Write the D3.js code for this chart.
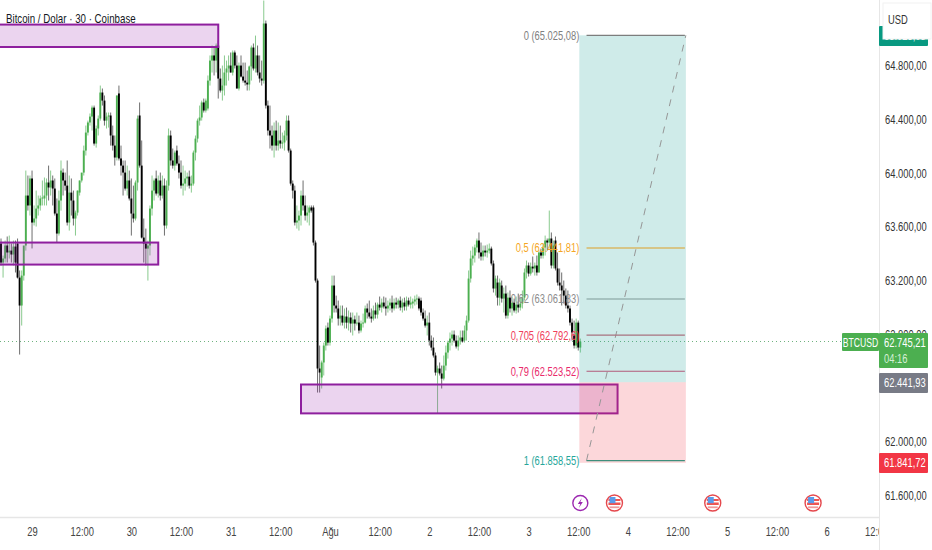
<!DOCTYPE html>
<html><head><meta charset="utf-8">
<script src="https://cdn.jsdelivr.net/npm/d3@7"></script>
<style>
html,body{margin:0;padding:0;background:#fff;overflow:hidden}
svg{display:block}
text{font-family:"Liberation Sans",Arial,sans-serif}
</style></head><body><svg id="c" width="932" height="550"></svg>
<script>
// 30-minute candles, index = bar number
const opens=[
63475,63333,63363,63460,63408,63422,63393,63452,63475,63221,
63013,63236,63460,63832,63758,63959,63631,63661,63735,63758,
63810,63810,63832,63929,63892,63944,63884,63698,63549,63795,
64003,63944,63906,63631,63854,63795,63661,63705,63854,63944,
64003,64167,64301,64376,64420,64487,64219,64331,64405,64599,
64539,64390,64420,64428,64279,64204,64115,64592,64108,64055,
64003,63884,63944,63810,63698,63661,63929,64428,64055,63519,
63475,63437,63460,63735,63869,63959,63847,63944,63832,63906,
63609,63906,64279,64093,64055,64167,64070,64003,63906,63921,
63959,63973,63906,63921,64152,64256,64390,64413,64525,64465,
64480,64688,64837,64875,64837,64949,64703,64614,64651,64748,
64778,64800,64748,64897,64800,64629,64800,64718,64688,64673,
64659,64793,64934,64778,64875,64748,64703,64688,65113,64502,
64316,64279,64204,64316,64204,64242,64219,64227,64279,64390,
64167,63921,63869,63631,63646,63683,63832,63758,63683,63705,
63743,63743,63482,63199,62544,62477,62589,62715,62849,62737,
62916,63162,63013,62991,62916,62938,62886,62931,62886,62924,
62879,62909,62879,62886,62827,62879,62886,62991,62961,62931,
62916,62976,62946,63020,62998,63035,63006,62991,63013,63035,
62991,63035,63020,63050,62998,63035,63006,63050,63020,63028,
63043,63058,63065,63050,62961,62916,62864,62886,62752,62700,
62641,62514,62544,62507,62469,62566,62663,62737,62767,62797,
62752,62708,62752,62775,62752,62827,62901,63214,63363,63385,
63445,63497,63408,63378,63422,63408,63422,63437,63326,63140,
63184,63072,63162,63065,63102,62938,63072,62991,63035,62976,
63020,62998,63028,63072,63259,63311,63251,63303,63289,63311,
63259,63408,63385,63445,63497,63482,63512,63311,63497,63289,
63184,63162,63125,63087,63013,62991,62886,62790,62715,62886,
62700];
const highs=[
63512,63385,63497,63527,63534,63475,63497,63497,63512,63274,
63274,63333,64018,63981,63981,64018,63758,63869,63832,63832,
63944,63966,63959,64055,64018,63981,63959,63810,63869,64093,
64033,64003,64093,63981,63959,63869,63720,63869,63944,63981,
64204,64353,64390,64443,64502,64502,64353,64428,64651,64629,
64577,64450,64450,64450,64353,64279,64577,64651,64204,64093,
64093,64055,64018,63959,63906,63944,64428,64525,64242,63661,
63586,63497,63758,63981,63959,64018,63981,64003,63981,63959,
63944,64331,64316,64182,64167,64204,64130,64093,64055,64018,
64003,64018,63981,64167,64279,64405,64502,64539,64554,64554,
64726,64875,64949,64934,64964,64986,64778,64800,64875,64837,
64875,64897,64912,64912,64875,64822,64875,64822,64822,64763,
64800,64949,64964,65023,64949,64875,64837,65284,65135,64539,
64502,64353,64376,64390,64376,64353,64301,64316,64428,64428,
64182,63944,63906,63758,63720,63869,63944,63832,63758,63758,
63758,63758,63497,63214,62715,62603,62737,62864,62886,62938,
63236,63236,63087,63050,63013,63013,62991,62998,62976,62961,
62961,62938,62961,62938,62901,62953,63013,63028,63050,62991,
63013,63035,63035,63080,63065,63080,63072,63050,63065,63087,
63065,63072,63065,63080,63065,63072,63080,63072,63080,63065,
63087,63095,63080,63072,62991,62976,62938,62961,62790,62775,
62663,62566,62589,62566,62641,62715,62752,62812,62827,62827,
62790,62790,62827,62827,62864,62938,63274,63422,63452,63467,
63512,63557,63482,63460,63460,63467,63475,63452,63348,63236,
63236,63214,63199,63147,63162,63110,63125,63080,63065,63080,
63102,63072,63125,63289,63348,63333,63333,63378,63333,63385,
63422,63437,63475,63534,63512,63720,63557,63497,63527,63408,
63289,63259,63199,63140,63125,63013,62916,62901,62916,62901,
62767];
const lows=[
63311,63221,63333,63333,63363,63333,63311,63259,63214,62648,
62864,63199,63422,63720,63683,63438,63609,63601,63683,63720,
63758,63758,63758,63795,63832,63758,63683,63482,63534,63720,
63832,63869,63609,63571,63683,63609,63534,63683,63832,63929,
63981,64130,64279,64353,64316,64204,64189,64279,64390,64502,
64353,64331,64338,64204,64167,64055,64093,64093,63981,63832,
63869,63832,63795,63534,63631,63646,63869,64040,63512,63333,
63311,63199,63386,63683,63795,63832,63817,63795,63810,63534,
63586,63869,64055,64033,64018,64055,63959,63884,63832,63869,
63899,63884,63854,63906,64093,64227,64353,64390,64450,64450,
64465,64651,64748,64726,64748,64554,64599,64539,64577,64651,
64688,64748,64726,64778,64629,64614,64711,64673,64651,64614,
64614,64688,64763,64748,64726,64673,64651,64666,64480,64279,
64182,64167,64115,64167,64167,64182,64182,64167,64242,64152,
63906,63810,63609,63586,63571,63609,63720,63646,63631,63609,
63705,63460,63184,62365,62365,62395,62492,62678,62715,62715,
62886,62961,62961,62864,62864,62864,62842,62842,62827,62812,
62790,62827,62864,62805,62812,62849,62879,62916,62916,62886,
62901,62916,62916,62976,62961,62991,62938,62961,62976,62961,
62976,62991,62991,62976,62961,62976,62976,63006,62991,62991,
63013,63020,62976,62938,62901,62849,62790,62715,62678,62626,
62492,62209,62492,62395,62455,62529,62618,62678,62715,62737,
62693,62678,62722,62737,62737,62752,62886,63184,63311,63333,
63408,63363,63348,63348,63378,63370,63400,63311,63110,63087,
63013,63013,63035,62961,62916,62916,62961,62938,62961,62953,
62961,62976,62991,63050,63214,63229,63236,63259,63236,63236,
63259,63363,63363,63385,63422,63437,63289,63289,63274,63162,
63125,63013,63028,62991,62961,62864,62752,62693,62693,62678,
62663];
const closes=[
63333,63363,63460,63408,63422,63393,63452,63333,63221,63013,
63236,63460,63832,63758,63959,63631,63661,63735,63758,63810,
63817,63832,63929,63892,63944,63884,63698,63549,63795,64018,
63944,63906,63631,63854,63795,63661,63705,63869,63944,64003,
64167,64301,64376,64420,64487,64219,64331,64405,64599,64539,
64390,64420,64428,64279,64204,64115,64577,64108,64055,64003,
63884,63944,63810,63698,63661,63929,64405,64055,63519,63475,
63437,63460,63735,63869,63944,63847,63944,63832,63906,63609,
63906,64279,64093,64055,64152,64070,64003,63906,63921,63959,
63973,63906,63921,64152,64256,64390,64413,64525,64465,64539,
64688,64837,64875,64837,64949,64703,64614,64651,64748,64778,
64800,64748,64897,64800,64629,64800,64718,64688,64673,64659,
64793,64934,64778,64875,64748,64703,64688,65113,64502,64316,
64279,64204,64316,64204,64242,64219,64227,64279,64390,64167,
63921,63869,63631,63646,63683,63832,63758,63683,63705,63743,
63720,63482,63199,62544,62514,62589,62715,62842,62737,62916,
63162,63013,62991,62916,62938,62886,62931,62886,62924,62879,
62909,62879,62886,62827,62879,62886,62991,62961,62931,62916,
62976,62946,63020,62998,63035,63006,62991,63013,63035,62991,
63035,63020,63050,62998,63035,63006,63050,63020,63035,63043,
63058,63065,62991,62961,62916,62864,62886,62752,62700,62641,
62514,62544,62507,62469,62566,62663,62737,62767,62797,62752,
62708,62752,62775,62745,62827,62901,63214,63363,63385,63445,
63497,63408,63378,63422,63408,63422,63437,63326,63140,63214,
63072,63184,63065,63102,62938,63072,62991,63035,62976,63020,
62998,63028,63072,63259,63311,63251,63303,63289,63311,63259,
63408,63385,63445,63497,63482,63512,63311,63460,63289,63184,
63162,63125,63087,63013,62991,62886,62812,62715,62886,62700,
62745];

const priceTicks=[64800,64400,64000,63600,63200,62800,62000,61600];
const timeBars=[15,39,63,87,111,135,159,183,207,231,255,279,303,327,351,375,399,423];
const timeLabels=["29","12:00","30","12:00","31","12:00","Ağu","12:00","2","12:00","3","12:00","4","12:00","5","12:00","6","12:00"];

const zoneStart=[-5,-5,145];
const zoneEnd=[105,76,298];
const zoneTop=[65105,63482,62425];
const zoneBottom=[64938,63318,62210];

const fibLabels=["0 (65.025,08)","0,5 (63.441,81)","0,62 (63.061,83)","0,705 (62.792,6)","0,79 (62.523,52)","1 (61.858,55)"];
const fibPrices=[65025.08,63441.81,63061.83,62792.68,62523.52,61858.55];
const fibLine=["#7d7d7d","#d8b866","#7f9a98","#a8727f","#b25a7a","#3f8f7c"];
const fibText=["#808080","#f5a623","#8c8c8c","#f0405a","#e92a6b","#26a69a"];
const toolStartBar=280,toolEndBar=331.5,entryPrice=62441.93,topPrice=65025.08,stopPrice=61841.72;
const lastPrice=62745.21;
const eventBars=[280,296.5,344,392.5];

const W=932,H=550,plotW=879,plotH=518;
const pxPerPrice=1/7.446;
const y=d3.scaleLinear().domain([65288,65288-plotH/pxPerPrice]).range([0,plotH]);
const x=d3.scaleLinear().domain([0,plotW/2.069]).range([1,plotW+1]);
const fmt=d3.formatLocale({decimal:",",thousands:".",grouping:[3],currency:["",""]}).format(",.2f");

const svg=d3.select("#c");
svg.append("rect").attr("width",W).attr("height",H).attr("fill","#fff");
svg.append("defs").append("clipPath").attr("id","plot").append("rect").attr("width",plotW).attr("height",plotH);
const g=svg.append("g").attr("clip-path","url(#plot)");

// candles
const idx=d3.range(opens.length);
const isUp=i=>closes[i]>=opens[i];
g.append("line").attr("x1",0).attr("x2",plotW).attr("y1",Math.round(y(lastPrice))+0.5).attr("y2",Math.round(y(lastPrice))+0.5)
 .attr("stroke","#6fb27f").attr("stroke-dasharray","1 3").attr("stroke-width",1);
g.selectAll(".w").data(idx).join("line").attr("class","w")
 .attr("x1",i=>x(i)).attr("x2",i=>x(i)).attr("y1",i=>y(highs[i])).attr("y2",i=>y(lows[i]))
 .attr("stroke",i=>isUp(i)?"#7cc481":"#5e5e5e").attr("stroke-width",0.9);
g.selectAll(".b").data(idx).join("rect").attr("class","b")
 .attr("x",i=>x(i)-0.95).attr("width",1.9)
 .attr("y",i=>Math.min(y(opens[i]),y(closes[i])))
 .attr("height",i=>Math.max(0.8,Math.abs(y(opens[i])-y(closes[i]))))
 .attr("fill",i=>isUp(i)?"#4caf50":"#000");

// zones
zoneTop.forEach((t,i)=>{
 g.append("rect").attr("x",x(zoneStart[i])).attr("width",x(zoneEnd[i])-x(zoneStart[i]))
  .attr("y",y(t)).attr("height",y(zoneBottom[i])-y(t))
  .attr("fill","#9c27b0").attr("fill-opacity",0.2).attr("stroke","#8e1f9e").attr("stroke-width",2);
});

// long position tool
const tx0=x(toolStartBar)-1,tx1=x(toolEndBar)-1;
g.append("rect").attr("x",tx0).attr("width",tx1-tx0).attr("y",y(topPrice)).attr("height",y(entryPrice)-y(topPrice))
 .attr("fill","#26a69a").attr("fill-opacity",0.22);
g.append("rect").attr("x",tx0).attr("width",tx1-tx0).attr("y",y(entryPrice)).attr("height",y(stopPrice)-y(entryPrice))
 .attr("fill","#f23645").attr("fill-opacity",0.2);
g.append("line").attr("x1",x(toolStartBar+3)).attr("x2",tx1).attr("y1",y(fibPrices[5])).attr("y2",y(topPrice))
 .attr("stroke","#969696").attr("stroke-width",1).attr("stroke-dasharray","7 7");

// fib levels
fibPrices.forEach((p,i)=>{
 g.append("line").attr("x1",x(toolStartBar+3)).attr("x2",tx1-1).attr("y1",y(p)).attr("y2",y(p))
  .attr("stroke",fibLine[i]).attr("stroke-width",i==1?1.6:1.2);
 g.append("text").attr("x",tx0).attr("y",y(p)+4.5).attr("text-anchor","end")
  .attr("font-size",13).attr("fill",fibText[i]).text(fibLabels[i]);
});

// title
svg.append("text").attr("x",6).attr("y",23).attr("font-size",13.5).attr("fill","#131722").text("Bitcoin / Dolar · 30 · Coinbase");

// event icons
const iconY=503;
const evG=svg.append("g");
evG.append("circle").attr("cx",x(eventBars[0])).attr("cy",iconY).attr("r",7.5).attr("fill","#fff").attr("stroke","#9c27b0").attr("stroke-width",1.4);
evG.append("path").attr("transform",`translate(${x(eventBars[0])},${iconY})`).attr("d","M1.5,-5 L-2.5,1 L0,1 L-1.5,5 L2.5,-1 L0,-1 Z").attr("fill","#9c27b0");
eventBars.slice(1).forEach(b=>{
 const f=evG.append("g").attr("transform",`translate(${x(b)},${iconY})`);
 f.append("circle").attr("r",8).attr("fill","#fff").attr("stroke","#e5484d").attr("stroke-width",1.4);
 f.append("rect").attr("x",-6).attr("y",-4).attr("width",12).attr("height",2).attr("fill","#ef5350");
 f.append("rect").attr("x",-6).attr("y",-0.5).attr("width",12).attr("height",2.5).attr("fill","#ef5350");
 f.append("rect").attr("x",-5).attr("y",3.4).attr("width",10).attr("height",1.8).attr("fill","#ef9a9a");
 f.append("rect").attr("x",-5).attr("y",-6).attr("width",6).attr("height",6.2).attr("fill","#5b9bea");
});

// bottom band and axis
svg.append("rect").attr("x",0).attr("y",plotH-1).attr("width",W).attr("height",550-plotH+1).attr("fill","#fff");
svg.append("line").attr("x1",0).attr("x2",plotW).attr("y1",plotH-0.5).attr("y2",plotH-0.5).attr("stroke","#e6e6e6").attr("stroke-width",1.5);
const xAxis=svg.append("g").attr("transform",`translate(0,${plotH})`)
 .call(d3.axisBottom(x).tickValues(timeBars).tickFormat((d,i)=>timeLabels[i]).tickSize(0).tickPadding(9));
xAxis.select(".domain").remove();
xAxis.selectAll("text").attr("font-size",13).attr("fill","#444").attr("font-family","Liberation Sans");

// right panel covers the last time label
svg.append("rect").attr("x",plotW).attr("y",0).attr("width",W-plotW).attr("height",H).attr("fill","#fff");
svg.append("line").attr("x1",plotW+0.5).attr("x2",plotW+0.5).attr("y1",0).attr("y2",H).attr("stroke","#e6e6e6").attr("stroke-width",1);

const yAxis=svg.append("g").attr("transform",`translate(${plotW},0)`)
 .call(d3.axisRight(y).tickValues(priceTicks).tickFormat(fmt).tickSize(0).tickPadding(6));
yAxis.select(".domain").remove();
yAxis.selectAll("text").attr("font-size",13).attr("fill","#333").attr("font-family","Liberation Sans");

// right axis badges
const badge=(by,bh,fill,lines)=>{
 svg.append("rect").attr("x",plotW).attr("y",by).attr("width",49).attr("height",bh).attr("rx",1).attr("fill",fill);
 lines.forEach(l=>svg.append("text").attr("x",plotW+5).attr("y",by+l[1]).attr("font-size",13).attr("fill",l[2]).text(l[0]));
};
badge(26,20,"#089981",[[fmt(topPrice),14,"#fff"]]);
svg.append("rect").attr("x",883).attr("y",3).attr("width",48).attr("height",36).attr("fill","#fff").attr("stroke","#f2f2f2");
svg.append("text").attr("x",888).attr("y",24).attr("font-size",13).attr("fill","#333").text("USD");
badge(333,35,"#4caf50",[[fmt(lastPrice),14,"#fff"],["04:16",30,"#d6efd7"]]);
badge(373,20,"#787b86",[[fmt(62441.93),14,"#fff"]]);
badge(453,20,"#f23645",[[fmt(61841.72),14,"#fff"]]);
svg.append("rect").attr("x",842).attr("y",333).attr("width",37).attr("height",18).attr("rx",1).attr("fill","#4caf50");
svg.append("text").attr("x",860.5).attr("y",346.5).attr("text-anchor","middle").attr("font-size",12).attr("fill","#fff").text("BTCUSD");

// the reference uses a condensed face: narrow every label horizontally
svg.selectAll("text").each(function(){
 const w=this.getComputedTextLength();
 this.setAttribute("lengthAdjust","spacingAndGlyphs");
 this.setAttribute("textLength",w*0.72);
});
</script></body></html>
